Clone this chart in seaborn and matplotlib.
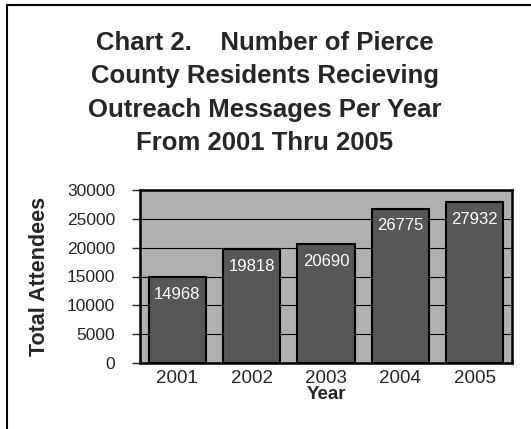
import matplotlib
matplotlib.use("Agg")
import matplotlib.pyplot as plt
import seaborn as sns
import pandas as pd
from matplotlib.lines import Line2D

years = ["2001", "2002", "2003", "2004", "2005"]
attendees = [14968, 19818, 20690, 26775, 27932]
yticks = [0, 5000, 10000, 15000, 20000, 25000, 30000]
title = "Chart 2.    Number of Pierce\nCounty Residents Recieving\nOutreach Messages Per Year\nFrom 2001 Thru 2005"

sns.set_style("white")
plt.rcParams['font.family'] = ['Liberation Sans', 'DejaVu Sans']

df = pd.DataFrame({"Year": years, "Attendees": attendees})

W, H = 531, 429
fig = plt.figure(figsize=(W / 100, H / 100), dpi=100)
ax = fig.add_axes([140 / W, 1 - 363 / H, (512 - 140) / W, (363 - 190) / H])

ax.set_facecolor("#b0b0b0")
sns.barplot(data=df, x="Year", y="Attendees", color="#575757", width=0.77,
            edgecolor="black", linewidth=1.5, saturation=1, ax=ax, zorder=3)

ax.set_ylim(0, 30000)
ax.set_yticks(yticks)
ax.set_yticklabels([str(v) for v in yticks], fontsize=12.5)
ax.tick_params(axis="y", length=6, width=1, direction="out", left=True, pad=12)
ax.tick_params(axis="x", length=0, labelsize=13.5, pad=5)
ax.grid(axis="y", color="black", linewidth=0.8, zorder=1)
ax.set_axisbelow(True)
for s in ax.spines.values():
    s.set_color("black")
    s.set_linewidth(1.8)

ax.set_xlabel("Year", fontsize=13.5, fontweight="bold", labelpad=-1)
ax.set_ylabel("Total Attendees", fontsize=15.5, fontweight="bold", labelpad=12)

for p, v in zip(ax.patches, attendees):
    ax.annotate(str(v), (p.get_x() + p.get_width() / 2, v),
                xytext=(0, -12.5), textcoords="offset points", ha="center",
                va="center", color="white", fontsize=12, zorder=5)

fig.text(265 / W, 1 - 31 / H, title, ha="center", va="top", fontsize=18.5,
         fontweight="bold", linespacing=1.49)

fig.add_artist(Line2D([7 / W, 1], [1 - 5 / H, 1 - 5 / H], color="black", lw=1.5,
                      transform=fig.transFigure))
fig.add_artist(Line2D([7 / W, 7 / W], [0, 1 - 5 / H], color="black", lw=1.5,
                      transform=fig.transFigure))

fig.savefig("out.png", dpi=100)
